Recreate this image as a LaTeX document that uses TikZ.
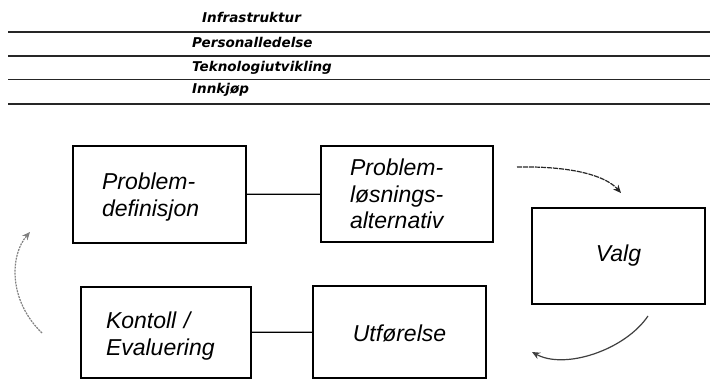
\documentclass[tikz,border=0pt]{standalone}
\usepackage{fontspec}
\setmainfont{Liberation Sans}
\newfontfamily\topfont{DejaVu Sans}
\usetikzlibrary{arrows.meta}
\begin{document}
\begin{tikzpicture}[x=1pt,y=-1pt,
  rule/.style={draw=black!85,line width=1.8pt},
  toplabel/.style={anchor=base west,inner sep=0pt,font=\topfont\bfseries\itshape\fontsize{13.5}{15}\selectfont},
  boxL/.style={draw=black,line width=1.2pt,align=left,inner ysep=0pt,
    font=\itshape\fontsize{23}{26.5}\selectfont},
  boxC/.style={draw=black,line width=1.2pt,align=center,inner sep=0pt,
    font=\itshape\fontsize{23}{26.5}\selectfont},
  link/.style={draw=black,line width=1.2pt},
  cyc/.style={line width=1.2pt,-{Stealth[length=8pt,width=7pt]}}
]
\useasboundingbox (0,0) rectangle (710,380);
% top rules
\draw[rule] (8,32) -- (710,32);
\draw[rule] (8,56) -- (710,56);
\draw[rule] (8,79.5) -- (710,79.5);
\draw[rule] (8,104) -- (710,104);
\node[toplabel] (infra) at (202,22) {Infrastruktur};
\node[toplabel] (pers) at (192,47) {Personalledelse};
\node[toplabel] (tekn) at (192,71) {Teknologiutvikling};
\node[toplabel] (innk) at (192,93) {Innkjøp};
% boxes
\node[boxL,text width=115pt,inner xsep=29pt,minimum height=97pt] (def) at (159.5,194.5) {\rule{0pt}{22pt}Problem-\\definisjon};
\node[boxL,text width=114pt,inner xsep=29pt,minimum height=96pt] (alt) at (407,194) {Problem-\\løsnings-\\alternativ};
\node[boxC,minimum width=173pt,minimum height=96pt] (valg) at (618.5,256) {Valg};
\node[boxL,text width=120pt,inner xsep=25pt,minimum height=91pt] (kont) at (166,332.5) {\rule{0pt}{24pt}Kontoll /\\Evaluering};
\node[boxC,minimum width=173pt,minimum height=92pt] (utf) at (399.5,332) {\rule{0pt}{20pt}Utførelse};
% links
\draw[link] (def) -- (alt);
\draw[link] (kont) -- (utf);
% cycle arrows
\coordinate (a1s) at (517,167);
\coordinate (a1e) at (621,193);
\coordinate (a2s) at (648,316);
\coordinate (a2e) at (532,352);
\coordinate (a3s) at (42,333);
\coordinate (a3e) at (30,232);
\draw[cyc,black!85,dash pattern=on 5pt off 1pt] (a1s) .. controls (570,166) and (605,175) .. (a1e);
\draw[cyc,black!75] (a2s) .. controls (625,350) and (565,370) .. (a2e);
\draw[cyc,black!50,dash pattern=on 2pt off 1pt] (a3s) .. controls (8,300) and (10,255) .. (a3e);
\end{tikzpicture}
\end{document}
